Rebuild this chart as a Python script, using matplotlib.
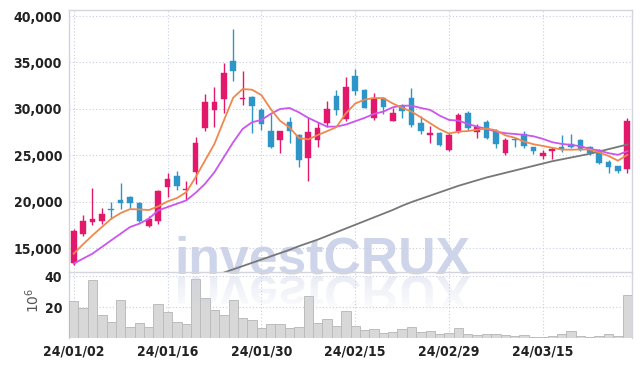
import matplotlib
matplotlib.use('Agg')
import matplotlib.pyplot as plt
import numpy as np
from matplotlib.textpath import TextPath
from matplotlib.patches import PathPatch, Rectangle
from matplotlib.font_manager import FontProperties, fontManager
from matplotlib.transforms import Affine2D, IdentityTransform

# ---------------- data ----------------
dates = ['24/01/02', '24/01/03', '24/01/04', '24/01/05', '24/01/08', '24/01/09', '24/01/10', '24/01/11',
         '24/01/12', '24/01/15', '24/01/16', '24/01/17', '24/01/18', '24/01/19', '24/01/22', '24/01/23',
         '24/01/24', '24/01/25', '24/01/26', '24/01/29', '24/01/30', '24/01/31', '24/02/01', '24/02/02',
         '24/02/05', '24/02/06', '24/02/07', '24/02/08', '24/02/13', '24/02/14', '24/02/15', '24/02/16',
         '24/02/19', '24/02/20', '24/02/21', '24/02/22', '24/02/23', '24/02/26', '24/02/27', '24/02/28',
         '24/02/29', '24/03/04', '24/03/05', '24/03/06', '24/03/07', '24/03/08', '24/03/11', '24/03/12',
         '24/03/13', '24/03/14', '24/03/15', '24/03/18', '24/03/19', '24/03/20', '24/03/21', '24/03/22',
         '24/03/25', '24/03/26', '24/03/27', '24/03/28']

opens = [13390, 16510, 17800, 17900, 19230, 20200, 20450, 19880, 17370, 17900,
         21560, 22710, 21200, 23170, 27900, 29880, 31020, 35180, 31020, 31310,
         29910, 27650, 26650, 28620, 27220, 24680, 26690, 28440, 31380, 28910,
         33570, 32060, 28980, 31170, 28730, 30340, 31130, 28440, 27220, 27370,
         25610, 27470, 29590, 27470, 28620, 27650, 25220, 26760, 27290, 25930,
         24960, 25430, 25860, 26220, 26690, 25860, 25570, 24320, 23890, 23530]
highs = [17080, 18590, 21490, 19300, 19950, 22030, 20630, 19950, 18410, 21270,
         23100, 23280, 22200, 26970, 31600, 32310, 34890, 38620, 34030, 31420,
         30090, 29450, 27650, 29160, 27290, 29160, 28550, 30880, 32030, 33460,
         34280, 32130, 31670, 31310, 30090, 30520, 32240, 29270, 28190, 27470,
         27370, 29590, 29800, 28370, 28800, 27830, 26860, 26940, 27650, 25930,
         25610, 25860, 27190, 27290, 26760, 26000, 25680, 24500, 23890, 28980]
lows = [13210, 16330, 17440, 17550, 18150, 19230, 19300, 17830, 17300, 17580,
        20490, 21270, 20130, 21920, 27580, 28010, 29590, 33030, 30450, 27400,
        27730, 25790, 25220, 26290, 23780, 22210, 25860, 28080, 29370, 28660,
        31520, 30050, 28840, 29450, 28660, 29020, 28010, 27290, 26290, 26040,
        25500, 27400, 27730, 26860, 26760, 25790, 25040, 25930, 25790, 25140,
        24610, 24610, 25320, 25790, 25500, 25040, 24070, 23070, 23070, 23070]
closes = [16790, 17870, 18080, 18620, 19090, 19840, 19840, 17900, 18150, 21170,
          22460, 21670, 21310, 26360, 30740, 30770, 33850, 34030, 31200, 30270,
          28370, 25860, 27650, 27650, 24430, 27550, 27980, 29980, 29910, 32380,
          31950, 30050, 31130, 30160, 29520, 29800, 28300, 27580, 27370, 26150,
          27220, 29370, 27900, 28080, 26830, 26220, 26690, 26650, 25970, 25400,
          25290, 25720, 25680, 25860, 25570, 25220, 24140, 23780, 23350, 28730]

ma5 = [14390, 15400, 16360, 17260, 18150, 18760, 19190, 19160, 19090, 19480,
       20020, 20380, 21020, 22640, 24430, 26220, 28730, 31200, 32130, 32060,
       31480, 29970, 28700, 27990, 26860, 26700, 27170, 27590, 28030, 29500,
       30570, 30990, 31160, 31150, 30580, 30110, 29700, 29080, 28440, 27800,
       27340, 27540, 27600, 27750, 27880, 27680, 27140, 26890, 26470, 26180,
       26000, 25800, 25610, 25590, 25620, 25610, 25300, 24920, 24410, 25040]
ma10 = [13320, 13860, 14390, 15110, 15830, 16540, 17260, 17620, 18150, 19050,
        19410, 19770, 20130, 20950, 21920, 23170, 24790, 26400, 27830, 28550,
        28800, 29450, 29980, 30090, 29620, 29020, 28550, 28080, 28080, 28300,
        28660, 29020, 29450, 29700, 30160, 30340, 30340, 30090, 29880, 29270,
        28800, 28730, 28370, 28080, 27830, 27550, 27370, 27290, 27190, 27040,
        26760, 26400, 26220, 26110, 25970, 25680, 25500, 25220, 25040, 25430]
ma_long = [np.nan] * 16 + [
        12350, 12700, 13050, 13400, 13750, 14100, 14450, 14800, 15200, 15550,
        15900, 16300, 16700, 17100, 17500, 17900, 18300, 18700, 19100, 19550,
        19950, 20300, 20650, 21000, 21350, 21700, 22000, 22300, 22600, 22850,
        23100, 23350, 23600, 23850, 24100, 24350, 24550, 24750, 24950, 25150,
        25400, 25650, 25900, 26150]

volumes = [23.7, 19.2, 37.2, 14.6, 10.1, 24.3, 6.9, 9.5, 6.9, 21.7,
           16.6, 10.1, 8.8, 37.9, 25.6, 17.9, 14.6, 24.3, 12.7, 11.4,
           6.2, 8.8, 8.8, 6.2, 6.9, 26.9, 9.5, 12.1, 7.5, 17.2,
           7.5, 5.0, 5.6, 3.0, 3.7, 5.6, 6.9, 3.9, 4.5, 2.6,
           3.2, 6.2, 2.6, 1.7, 2.4, 2.4, 1.7, 1.1, 1.7, 0.4,
           0.4, 1.1, 2.4, 4.5, 1.1, 0.4, 1.1, 2.4, 1.1, 27.5]

price_ticks = [15000, 20000, 25000, 30000, 35000, 40000]
price_labels = ['15,000', '20,000', '25,000', '30,000', '35,000', '40,000']
vol_ticks = [20, 40]
vol_labels = ['20', '40']
date_tick_idx = [0, 10, 20, 30, 40, 50]

# ---------------- fonts ----------------
def pick_narrow():
    prefs = []
    for f in fontManager.ttflist:
        name = f.name.lower()
        fn = f.fname.lower().split('/')[-1]
        if 'serif' in name or 'serif' in fn or 'mono' in name or 'mono' in fn:
            continue
        narrow = ('narrow' in name or 'condensed' in name or 'narrow' in fn or 'condensed' in fn
                  or str(f.stretch) in ('condensed', 'semi-condensed', 'extra-condensed'))
        if not narrow:
            continue
        if 'italic' in fn or 'oblique' in fn or f.style != 'normal':
            continue
        bold = ('bold' in fn) or (isinstance(f.weight, int) and f.weight >= 600) or f.weight == 'bold'
        score = 0
        if 'liberation' in fn:
            score += 3
        if 'dejavu' in fn:
            score += 2
        if bold:
            score += 1
        if 'extra' in fn or 'light' in fn or 'thin' in fn:
            score -= 5
        prefs.append((score, f.fname))
    if prefs:
        prefs.sort(reverse=True)
        return FontProperties(fname=prefs[0][1], size=10)
    return None

narrow_fp = pick_narrow()
if narrow_fp is not None:
    tick_fp = narrow_fp
else:
    tick_fp = FontProperties(family='DejaVu Sans', size=9.5)

# ---------------- style ----------------
W, H = 643, 367
UP = '#e2186b'
DOWN = '#2e95c8'
GRID = '#c9cde0'
SPINE = '#d3d4dc'

fig = plt.figure(figsize=(W / 100, H / 100), dpi=100)
fig.patch.set_facecolor('white')

ax = fig.add_axes([69 / W, 1 - 272 / H, (632 - 69) / W, (272 - 10) / H])
axv = fig.add_axes([69 / W, 1 - 338 / H, (632 - 69) / W, (338 - 272) / H], sharex=ax)
for a in (ax, axv):
    a.set_facecolor('none')
    for s in a.spines.values():
        s.set_color(SPINE)
        s.set_linewidth(1.0)
    a.tick_params(length=0, pad=5, colors='#222222')
    a.grid(True, color=GRID, linestyle=(0, (1, 2)), linewidth=0.8)
    a.set_axisbelow(True)
ax.spines['bottom'].set_visible(False)
axv.spines['bottom'].set_visible(False)

x = np.arange(len(dates))
o = np.array(opens); c = np.array(closes); h = np.array(highs); l = np.array(lows)
up = c >= o
cols = np.where(up, UP, DOWN)

ax.vlines(x, l, h, colors=cols, linewidth=1.0, zorder=3)
bottom = np.minimum(o, c)
height = np.maximum(np.abs(c - o), 90)
ax.bar(x, height, bottom=bottom, width=0.6, color=cols, edgecolor=cols, linewidth=0.3, zorder=4)

ax.plot(x, ma_long, color='#777777', linewidth=1.3, zorder=5)
ax.plot(x, ma10, color='#cc55ee', linewidth=1.3, zorder=5)
ax.plot(x, ma5, color='#f0884e', linewidth=1.3, zorder=5)

ax.set_xlim(-0.5, len(dates) - 0.5)
ax.set_ylim(12414, 40647)
ax.set_yticks(price_ticks)
ax.set_yticklabels(price_labels, fontproperties=tick_fp)
plt.setp(ax.get_xticklabels(), visible=False)

axv.bar(x, volumes, width=1.0, color='#d8d8d8', edgecolor='#bcbcbc', linewidth=0.7, zorder=3)
axv.set_ylim(0, 42.6)
axv.set_yticks(vol_ticks)
axv.set_yticklabels(vol_labels, fontproperties=tick_fp)
axv.set_xticks(date_tick_idx)
axv.set_xticklabels([dates[i] for i in date_tick_idx], fontproperties=tick_fp)
fig.text(33 / W, 1 - 300 / H, '$10^6$', rotation=90, ha='center', va='center',
         color='#555555', fontsize=10)

# ---------------- watermark ----------------
WM_COLOR = '#c6cde6'
fp = FontProperties(family='Liberation Sans', weight='bold')
tp = TextPath((0, 0), 'investCRUX', size=100, prop=fp)
ext = tp.get_extents()
x0, x1 = 178, 462
ytop, ybase = 236, 274
sy = (ybase - ytop) / ext.height
fsize_px = 100 * sy
fig.text(x0 / W - (ext.x0 * sy) / W, (H - ybase) / H, 'investCRUX', fontproperties=fp,
         fontsize=fsize_px * 72 / 100, color=WM_COLOR, alpha=0.85, ha='left', va='baseline',
         zorder=-1)

# reflection (graphic effect)
tref = Affine2D().translate(-ext.x0, -ext.y0).scale(sy, -sy).translate(x0, H - ybase - 2)
nstrip = 12
span = 36
for k in range(nstrip):
    y_hi = H - ybase - 2 - k * span / nstrip
    rect = Rectangle((0, y_hi - span / nstrip), W, span / nstrip, transform=IdentityTransform())
    p = PathPatch(tp, transform=tref, facecolor=WM_COLOR, edgecolor='none',
                  alpha=0.36 * (1 - k / nstrip), zorder=10)
    p.set_clip_path(rect)
    fig.add_artist(p)

fig.savefig('out.png', dpi=100)
